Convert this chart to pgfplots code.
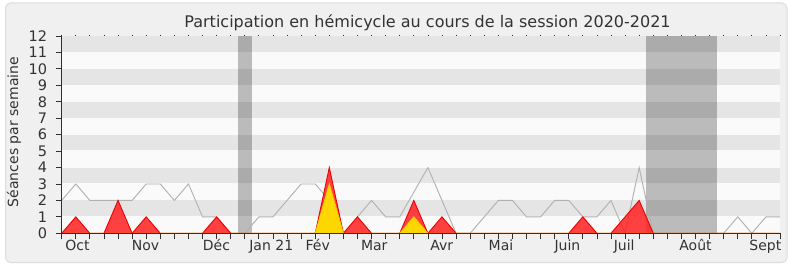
\documentclass[border=0pt]{standalone}
\usepackage{pgfplots}
\pgfplotsset{compat=1.18}
\usepackage{pgfplotstable}
\usepackage{fontspec}
\setmainfont{DejaVu Sans}
\definecolor{bgc}{HTML}{F0F0F0}
\definecolor{framec}{HTML}{DCDCDC}
\definecolor{bandg}{HTML}{E5E5E5}
\definecolor{bandl}{HTML}{FAFAFA}
\definecolor{grayl}{HTML}{B0B0B0}
\definecolor{redf}{HTML}{FF2020}
\definecolor{redl}{HTML}{EE0000}
\definecolor{yelf}{HTML}{FFD700}
\definecolor{yell}{HTML}{F5CC00}
\definecolor{textc}{HTML}{333333}
\definecolor{axisc}{HTML}{303030}

\pgfplotstableread{
k gray red yel
0 2 0 0
1 3 1 0
2 2 0 0
3 2 0 0
4 2 2 0
5 2 0 0
6 3 1 0
7 3 0 0
8 2 0 0
9 3 0 0
10 1 0 0
11 1 1 0
12 0 0 0
13 0 0 0
14 1 0 0
15 1 0 0
16 2 0 0
17 3 0 0
18 3 0 0
19 2 4 3
20 0 0 0
21 1 1 0
22 2 0 0
23 1 0 0
24 1 0 0
25 2.5 2 1
26 4 0 0
27 2 1 0
28 0 0 0
29 0 0 0
30 1 0 0
31 2 0 0
32 2 0 0
33 1 0 0
34 1 0 0
35 2 0 0
36 2 0 0
37 1 1 0
38 1 0 0
39 2 0 0
40 0 1 0
41 4 2 0
42 0 0 0
43 0 0 0
44 0 0 0
45 0 0 0
46 0 0 0
47 0 0 0
48 1 0 0
49 0 0 0
50 1 0 0
51 1 0 0
}\datatable

\begin{document}
\begin{tikzpicture}[x=1bp,y=1bp]
\path[use as bounding box, fill=white] (0,0) rectangle (790,267);
\fill[bgc, draw=framec, line width=1bp, rounded corners=5bp] (5.5,4.5) rectangle (787,264);

\begin{axis}[
  at={(61.7bp,33.7bp)}, anchor=south west,
  scale only axis, width=718.3bp, height=197.3bp,
  xmin=0, xmax=51, ymin=0, ymax=12,
  enlargelimits=false,
  axis x line=bottom, axis y line=left,
  axis line style={-, draw=axisc, line width=1bp},
  axis background/.style={fill=bandl},
  axis on top,
  xtick={0,...,51}, xticklabels={},
  ytick={0,...,12},
  tick align=outside,
  major tick length=6bp,
  tick style={draw=axisc, line width=0.8bp},
  /pgf/number format/assume math mode=true,
  yticklabel style={font=\fontsize{14.5bp}{16bp}\selectfont, text=textc, inner sep=0pt, xshift=-8.5bp},
  extra x ticks={1.12,5.95,10.99,14.88,18.18,22.19,26.98,31.19,35.91,39.94,45.0,49.96},
  extra x tick labels={Oct,Nov,Déc,Jan 21,Fév,Mar,Avr,Mai,Juin,Juil,Août,Sept},
  extra x tick style={major tick length=0pt, xticklabel style={font=\fontsize{14bp}{16bp}\selectfont, text=textc, inner sep=0pt, anchor=north, text height=10.2bp, yshift=-6.7bp}},
]
% background bands
\addplot[fill=bandg, draw=none] coordinates {(0,1.04) (51,1.04) (51,2) (0,2)} -- cycle;
\addplot[fill=bandg, draw=none] coordinates {(0,3.04) (51,3.04) (51,4) (0,4)} -- cycle;
\addplot[fill=bandg, draw=none] coordinates {(0,5.04) (51,5.04) (51,6) (0,6)} -- cycle;
\addplot[fill=bandg, draw=none] coordinates {(0,7.04) (51,7.04) (51,8) (0,8)} -- cycle;
\addplot[fill=bandg, draw=none] coordinates {(0,9.04) (51,9.04) (51,10) (0,10)} -- cycle;
\addplot[fill=bandg, draw=none] coordinates {(0,11.04) (51,11.04) (51,12) (0,12)} -- cycle;
% vacations
\addplot[fill=black, fill opacity=0.25, draw=none] coordinates {(12.5,0) (13.5,0) (13.5,12) (12.5,12)} -- cycle;
\addplot[fill=black, fill opacity=0.25, draw=none] coordinates {(41.5,0) (46.5,0) (46.5,12) (41.5,12)} -- cycle;
% median line
\addplot[draw=grayl, line width=0.9bp, mark=none] table[x=k, y=gray] {\datatable};
% presence
\addplot[fill=redf, fill opacity=0.85, draw=redl, line width=0.9bp, mark=none] table[x=k, y=red] {\datatable} \closedcycle;
% interventions
\addplot[fill=yelf, draw=yell, line width=0.9bp, mark=none] table[x=k, y=yel] {\datatable} \closedcycle;
\end{axis}

\begin{axis}[
  at={(61.7bp,33.7bp)}, anchor=south west,
  scale only axis, width=718.3bp, height=197.3bp,
  xmin=0, xmax=51, ymin=0, ymax=12,
  enlargelimits=false,
  axis x line=top, axis y line=none,
  x axis line style={draw=none},
  xtick={0,...,51}, xticklabels={}, ytick=\empty,
  tick align=outside, major tick length=1.2bp,
  tick style={draw=axisc, line width=0.8bp},
]
\end{axis}

\node[anchor=base, text=textc, font=\fontsize{16bp}{19bp}\selectfont] at (427.5,239.7) {Participation en hémicycle au cours de la session 2020-2021};
\node[rotate=90, anchor=base, text=textc, font=\fontsize{14bp}{16bp}\selectfont] at (18,135) {Séances par semaine};
\end{tikzpicture}
\end{document}
